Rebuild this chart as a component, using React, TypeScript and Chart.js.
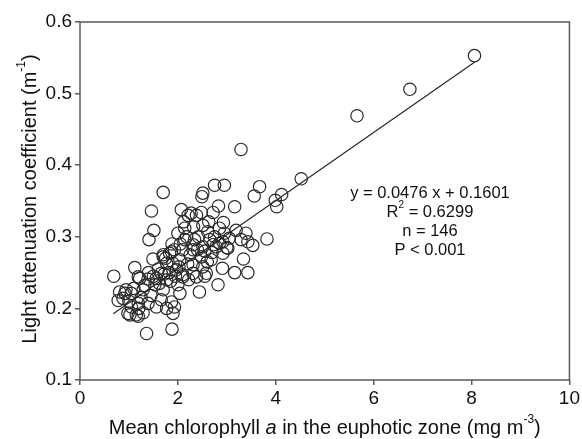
import React, { useEffect, useRef } from "react";
import { Chart, registerables } from "chart.js";

Chart.register(...registerables);

// Mean chlorophyll a in the euphotic zone (mg m-3)
const chlA = [
  8.06, 6.74, 5.66, 4.52, 3.29,
  4.12, 3.99, 4.02,
  3.67, 3.56,
  2.75, 2.95,
  2.51, 2.49,
  1.70, 1.46, 1.51, 1.41,
  2.07, 2.21, 2.12, 2.14,
  2.48, 2.72, 2.83, 3.16,
  2.93, 2.63, 2.51, 2.61, 2.38, 2.32, 2.27,
  3.19, 3.39, 3.82, 3.53, 3.29, 3.43,
  3.34, 3.43, 3.16, 2.91, 2.82, 2.44,
  3.05, 2.92, 2.78, 2.65, 2.51, 2.34, 2.31,
  2.48, 2.68, 2.92, 2.58, 2.38, 2.31, 2.51,
  2.85, 3.02, 2.72,
  0.69, 1.12, 1.19, 1.39, 0.81, 0.92, 1.05, 0.78,
  0.98, 1.15, 1.29, 1.36, 1.88, 1.90, 1.93,
  1.66, 1.70, 1.77, 1.53, 1.29, 1.19, 1.39, 1.56,
  1.83, 1.93, 1.70, 1.77, 1.90, 2.04, 2.10, 2.14,
  1.97, 2.10, 2.00, 2.04, 1.66, 1.56, 1.87, 1.77,
  1.05, 0.88, 1.49, 1.22, 0.94, 1.70, 1.87, 1.82,
  2.31, 2.10, 2.31, 1.02, 1.19,
  1.25, 1.45, 1.62, 1.72, 1.85, 1.95, 2.02, 2.20,
  2.25, 2.40, 2.42, 2.55, 2.60, 2.70, 2.75, 2.85,
  2.95, 3.00, 2.05, 2.18, 2.00, 1.88, 1.75, 1.60,
  1.50, 1.40, 1.10, 1.00, 1.20, 2.22, 2.55, 1.32,
];

// Light attenuation coefficient (m-1)
const kd = [
  0.553, 0.506, 0.469, 0.381, 0.422,
  0.359, 0.351, 0.342,
  0.370, 0.357,
  0.372, 0.372,
  0.361, 0.356,
  0.362, 0.336, 0.309, 0.296,
  0.338, 0.330, 0.321, 0.312,
  0.334, 0.334, 0.343, 0.342,
  0.320, 0.321, 0.316, 0.307, 0.330, 0.314, 0.333,
  0.309, 0.305, 0.297, 0.288, 0.296, 0.293,
  0.269, 0.250, 0.250, 0.256, 0.233, 0.223,
  0.298, 0.293, 0.286, 0.296, 0.286, 0.296, 0.282,
  0.272, 0.268, 0.277, 0.249, 0.244, 0.261, 0.258,
  0.291, 0.284, 0.289,
  0.245, 0.257, 0.244, 0.241, 0.223, 0.221, 0.221, 0.211,
  0.193, 0.191, 0.194, 0.165, 0.171, 0.193, 0.202,
  0.212, 0.226, 0.240, 0.233, 0.226, 0.207, 0.207, 0.202,
  0.277, 0.282, 0.272, 0.263, 0.263, 0.268, 0.282, 0.296,
  0.254, 0.244, 0.233, 0.221, 0.249, 0.242, 0.209, 0.200,
  0.202, 0.214, 0.269, 0.242, 0.226, 0.275, 0.279, 0.250,
  0.289, 0.247, 0.249, 0.191, 0.189,
  0.215, 0.218, 0.235, 0.248, 0.238, 0.245, 0.258, 0.262,
  0.275, 0.282, 0.300, 0.280, 0.265, 0.278, 0.300, 0.312,
  0.305, 0.285, 0.290, 0.300, 0.305, 0.290, 0.270, 0.255,
  0.245, 0.250, 0.228, 0.210, 0.200, 0.240, 0.245, 0.232,
];

// Regression line
const fitSlope = 0.0476;
const fitIntercept = 0.1601;
const fitRangeX = [0.68, 8.06];

const xTicks = [0, 2, 4, 6, 8, 10];
const yTicks = [0.1, 0.2, 0.3, 0.4, 0.5, 0.6];

const statsAnchor = { x: 7.15, y: 0.361 };

const FONT = "'Liberation Sans', Arial, Helvetica, sans-serif";
const TEXT = "#111";
const AXIS = "#5a5a5a";
const TICK_SIZE = 19;
const TITLE_SIZE = 20;
const STATS_SIZE = 16.5;

type Seg = { t: string; italic?: boolean; sup?: boolean };

function drawRich(ctx: CanvasRenderingContext2D, segs: Seg[], cx: number, cy: number, size: number) {
  const supSize = Math.round(size * 0.62);
  const fontFor = (s: Seg) => `${s.italic ? "italic " : ""}${s.sup ? supSize : size}px ${FONT}`;
  let total = 0;
  const widths = segs.map((s) => {
    ctx.font = fontFor(s);
    const w = ctx.measureText(s.t).width;
    total += w;
    return w;
  });
  let x = cx - total / 2;
  ctx.textBaseline = "middle";
  ctx.textAlign = "left";
  segs.forEach((s, i) => {
    ctx.font = fontFor(s);
    ctx.fillText(s.t, x, s.sup ? cy - size * 0.42 : cy);
    x += widths[i];
  });
}

const decorPlugin = {
  id: "decor",
  afterDraw(chart: any) {
    const { ctx, chartArea } = chart;
    const { left, right, top, bottom } = chartArea;
    ctx.save();
    // frame
    ctx.strokeStyle = AXIS;
    ctx.lineWidth = 1.5;
    ctx.strokeRect(left, top, right - left, bottom - top);
    ctx.fillStyle = TEXT;
    // x title
    drawRich(
      ctx,
      [
        { t: "Mean chlorophyll " },
        { t: "a", italic: true },
        { t: " in the euphotic zone (mg m" },
        { t: "-3", sup: true },
        { t: ")" },
      ],
      (left + right) / 2,
      428,
      TITLE_SIZE
    );
    // y title
    ctx.save();
    ctx.translate(30, (top + bottom) / 2 - 2);
    ctx.rotate(-Math.PI / 2);
    drawRich(
      ctx,
      [{ t: "Light attenuation coefficient (m" }, { t: "-1", sup: true }, { t: ")" }],
      0,
      0,
      TITLE_SIZE
    );
    ctx.restore();
    // stats
    const sx = chart.scales.x.getPixelForValue(statsAnchor.x);
    const sy = chart.scales.y.getPixelForValue(statsAnchor.y);
    const gap = 19.2;
    drawRich(ctx, [{ t: "y = " + fitSlope.toFixed(4) + " x + " + fitIntercept.toFixed(4) }], sx, sy, STATS_SIZE);
    drawRich(ctx, [{ t: "R" }, { t: "2", sup: true }, { t: " = 0.6299" }], sx, sy + gap, STATS_SIZE);
    drawRich(ctx, [{ t: "n = " + chlA.length }], sx, sy + gap * 2, STATS_SIZE);
    drawRich(ctx, [{ t: "P < 0.001" }], sx, sy + gap * 3, STATS_SIZE);
    ctx.restore();
  },
};

export default function App() {
  const ref = useRef<HTMLCanvasElement | null>(null);

  useEffect(() => {
    document.body.style.margin = "0";
    if (!ref.current) return;
    const points = chlA.map((x, i) => ({ x, y: kd[i] }));
    const fit = fitRangeX.map((x) => ({ x, y: fitSlope * x + fitIntercept }));
    const chart = new Chart(ref.current, {
      type: "scatter",
      data: {
        datasets: [
          {
            data: points,
            pointRadius: 6.2,
            pointBorderWidth: 1.2,
            pointBorderColor: "#2a2a2a",
            pointBackgroundColor: "rgba(0,0,0,0)",
            showLine: false,
          },
          {
            data: fit,
            showLine: true,
            pointRadius: 0,
            borderColor: "#222",
            borderWidth: 1.1,
            fill: false,
          },
        ],
      } as any,
      options: {
        responsive: false,
        animation: false,
        events: [],
        layout: { padding: { top: 22, right: 11, left: 0, bottom: 0 } },
        plugins: { legend: { display: false }, tooltip: { enabled: false } },
        scales: {
          x: {
            type: "linear",
            min: xTicks[0],
            max: xTicks[xTicks.length - 1],
            afterBuildTicks: (s: any) => {
              s.ticks = xTicks.map((v) => ({ value: v }));
            },
            afterFit: (s: any) => {
              s.height = 59;
            },
            border: { display: false },
            grid: { drawOnChartArea: false, drawTicks: true, tickLength: 5, color: AXIS, lineWidth: 1.5 },
            ticks: {
              padding: 2,
              color: TEXT,
              font: { family: FONT, size: TICK_SIZE },
              maxRotation: 0,
              callback: (v: any) => String(v),
            },
          },
          y: {
            type: "linear",
            min: yTicks[0],
            max: yTicks[yTicks.length - 1],
            afterBuildTicks: (s: any) => {
              s.ticks = yTicks.map((v) => ({ value: v }));
            },
            afterFit: (s: any) => {
              s.width = 80;
            },
            border: { display: false },
            grid: { drawOnChartArea: false, drawTicks: true, tickLength: 5, color: AXIS, lineWidth: 1.5 },
            ticks: {
              padding: 3,
              color: TEXT,
              font: { family: FONT, size: TICK_SIZE },
              callback: (v: any) => Number(v).toFixed(1),
            },
          },
        },
      } as any,
      plugins: [decorPlugin],
    });
    return () => chart.destroy();
  }, []);

  return (
    <div style={{ position: "absolute", left: 0, top: 0, width: 582, height: 439 }}>
      <canvas ref={ref} width={582} height={439} />
    </div>
  );
}
